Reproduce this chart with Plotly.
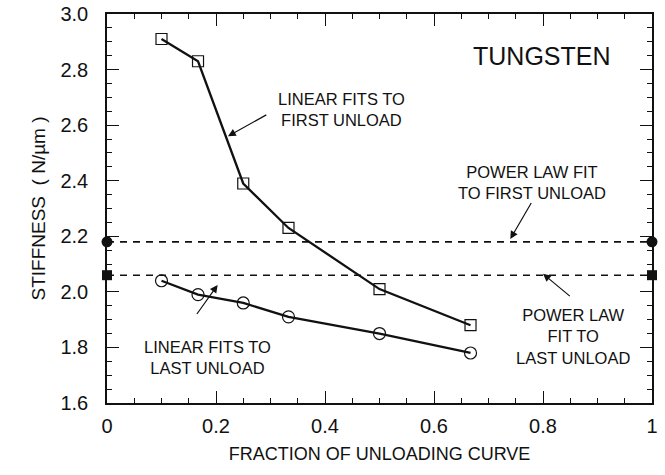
import plotly.graph_objects as go

fraction = [0.1, 0.167, 0.25, 0.333, 0.5, 0.667]
first_unload = [2.91, 2.83, 2.39, 2.23, 2.01, 1.88]
last_unload = [2.04, 1.99, 1.96, 1.91, 1.85, 1.78]
power_first = 2.18
power_last = 2.06
x_ends = [0, 1]
x_ticks = [0, 0.2, 0.4, 0.6, 0.8, 1]
x_ticklabels = ["0", "0.2", "0.4", "0.6", "0.8", "1"]
y_ticks = [1.6, 1.8, 2.0, 2.2, 2.4, 2.6, 2.8, 3.0]
y_ticklabels = ["1.6", "1.8", "2.0", "2.2", "2.4", "2.6", "2.8", "3.0"]

FONT = "Liberation Sans, Arial, sans-serif"
ink = "#111111"

fig = go.Figure()

fig.add_trace(go.Scatter(x=x_ends, y=[power_first, power_first], mode="lines",
                         line=dict(color=ink, width=1.6, dash="7px,6px"), showlegend=False))
fig.add_trace(go.Scatter(x=x_ends, y=[power_last, power_last], mode="lines",
                         line=dict(color=ink, width=1.6, dash="7px,6px"), showlegend=False))
fig.add_trace(go.Scatter(x=x_ends, y=[power_first, power_first], mode="markers",
                         marker=dict(symbol="circle", size=11, color=ink),
                         cliponaxis=False, showlegend=False))
fig.add_trace(go.Scatter(x=x_ends, y=[power_last, power_last], mode="markers",
                         marker=dict(symbol="square", size=10, color=ink),
                         cliponaxis=False, showlegend=False))

fig.add_trace(go.Scatter(x=fraction, y=first_unload, mode="lines+markers",
                         line=dict(color=ink, width=2.3),
                         marker=dict(symbol="square-open", size=11, color=ink, line=dict(width=1.2)),
                         showlegend=False))
fig.add_trace(go.Scatter(x=fraction, y=last_unload, mode="lines+markers",
                         line=dict(color=ink, width=2.3),
                         marker=dict(symbol="circle-open", size=12, color=ink, line=dict(width=1.2)),
                         showlegend=False))

axis_common = dict(showline=True, linecolor=ink, linewidth=1.6, mirror="ticks",
                   ticks="inside", ticklen=12, tickwidth=1.4, tickcolor=ink,
                   showgrid=False, zeroline=False, automargin=False,
                   tickfont=dict(family=FONT, size=20, color=ink))

fig.update_xaxes(range=[0, 1], tickvals=x_ticks, ticktext=x_ticklabels, ticklabelstandoff=4,
                 minor=dict(dtick=0.05, ticks="inside", ticklen=5, tickwidth=1.2, tickcolor=ink),
                 title=dict(text="FRACTION OF UNLOADING CURVE", font=dict(family=FONT, size=18, color=ink), standoff=12),
                 **axis_common)
fig.update_yaxes(range=[1.6, 3.0], tickvals=y_ticks, ticktext=y_ticklabels, ticklabelstandoff=13,
                 minor=dict(dtick=0.05, ticks="inside", ticklen=5, tickwidth=1.2, tickcolor=ink),
                 title=dict(text="STIFFNESS  ( N/µm )", font=dict(family=FONT, size=19, color=ink), standoff=10),
                 **axis_common)

ann_font = dict(family=FONT, size=16.5, color=ink)

fig.add_annotation(x=0.798, y=2.85, xref="x", yref="y", text="TUNGSTEN", showarrow=False,
                   font=dict(family=FONT, size=25, color=ink))
fig.add_annotation(x=0.43, y=2.655, xref="x", yref="y", text="LINEAR FITS TO<br>FIRST UNLOAD",
                   showarrow=False, font=ann_font, align="center")
fig.add_annotation(x=0.78, y=2.395, xref="x", yref="y", text="POWER LAW FIT<br>TO FIRST UNLOAD",
                   showarrow=False, font=ann_font, align="center")
fig.add_annotation(x=0.855, y=1.84, xref="x", yref="y", text="POWER LAW<br>FIT TO<br>LAST UNLOAD",
                   showarrow=False, font=ann_font, align="center")
fig.add_annotation(x=0.185, y=1.765, xref="x", yref="y", text="LINEAR FITS TO<br>LAST UNLOAD",
                   showarrow=False, font=ann_font, align="center")

arrows = [((0.295, 2.64), (0.222, 2.56)),
          ((0.78, 2.325), (0.74, 2.19)),
          ((0.852, 1.98), (0.80, 2.065)),
          ((0.163, 1.915), (0.203, 2.025))]
for (tx, ty), (hx, hy) in arrows:
    fig.add_annotation(x=hx, y=hy, ax=tx, ay=ty, xref="x", yref="y", axref="x", ayref="y",
                       text="", showarrow=True, arrowhead=2, arrowsize=1.3, arrowwidth=1.2, arrowcolor=ink)

fig.update_layout(width=665, height=475, margin=dict(l=107, r=13, t=14, b=72),
                  plot_bgcolor="white", paper_bgcolor="white", font=dict(family=FONT, color=ink))

fig.write_html("out.html", config={"displayModeBar": False},
               post_script="document.body.style.margin='0';document.body.style.overflow='hidden';")
